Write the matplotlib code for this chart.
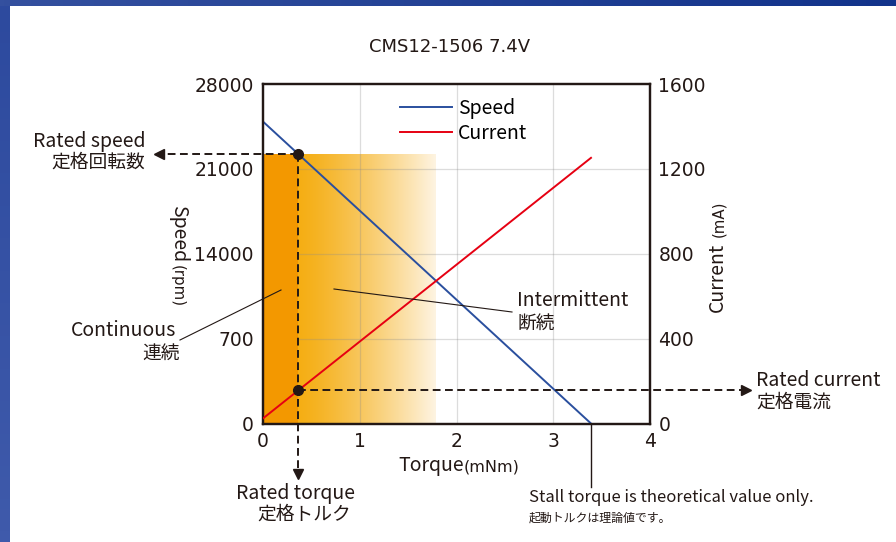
import numpy as np
import matplotlib
matplotlib.use("Agg")
import matplotlib.pyplot as plt
from matplotlib.colors import LinearSegmentedColormap

plt.rcParams['font.family'] = ['Noto Sans CJK JP', 'DejaVu Sans']

# ---- data ----
torque = [0.0, 3.39]          # mNm
speed = [24900, 0]            # rpm
current = [24, 1252]          # mA
rated_torque = 0.365
rated_speed = 22200
rated_current = 157
interm_limit = 1.786
x_ticks = [0, 1, 2, 3, 4]
speed_ticks = [0, 7000, 14000, 21000, 28000]
speed_tick_labels = ["0", "700", "14000", "21000", "28000"]
current_ticks = [0, 400, 800, 1200, 1600]
current_tick_labels = ["0", "400", "800", "1200", "1600"]

W, H = 896, 542
fig = plt.figure(figsize=(W / 100, H / 100), dpi=100)
fig.patch.set_facecolor('white')

def P(x, y):
    return x / W, 1 - y / H

# blue frame
axl = fig.add_axes([0, 0, 9 / W, 1])
axl.imshow(np.linspace(0, 1, 50).reshape(-1, 1), aspect='auto',
           cmap=LinearSegmentedColormap.from_list('l', ['#2d4a9e', '#3f5aab']), extent=[0, 1, 0, 1])
axl.axis('off')
axt = fig.add_axes([0, 1 - 6 / H, 1, 6 / H])
axt.imshow(np.linspace(0, 1, 200).reshape(1, -1), aspect='auto',
           cmap=LinearSegmentedColormap.from_list('t', ['#34509f', '#12338b']), extent=[0, 1, 0, 1])
axt.axis('off')

x0, x1, ytop, ybot = 263, 650, 84, 423.5
ax = fig.add_axes([x0 / W, 1 - ybot / H, (x1 - x0) / W, (ybot - ytop) / H])
ax.set_xlim(0, 4)
ax.set_ylim(0, 28000)
ax2 = ax.twinx()
ax2.set_ylim(0, 1600)

# grid
for xv in x_ticks[1:-1]:
    ax.axvline(xv, color='#8c8c8c', alpha=0.3, lw=0.9, zorder=1.5)
for yv in speed_ticks[1:-1]:
    ax.axhline(yv, color='#8c8c8c', alpha=0.3, lw=0.9, zorder=1.5)

# continuous region (dark orange)
ax.fill_between([0, rated_torque], 0, rated_speed, color='#f39800', lw=0, zorder=2)
# intermittent region gradient
t = np.linspace(0, 1, 256)
c0 = np.array([245, 174, 20]) / 255
c1 = np.array([254, 244, 226]) / 255
tt = t ** 1.3
cols = (1 - tt)[:, None] * c0 + tt[:, None] * c1
grad = cols.reshape(1, -1, 3)
ax.imshow(grad, aspect='auto', extent=[rated_torque, interm_limit, 0, rated_speed],
          zorder=1, interpolation='bilinear')
ax.set_xlim(0, 4)
ax.set_ylim(0, 28000)

# lines
ax.plot(torque, speed, color='#2a4f9e', lw=1.4, zorder=4, label='Speed')
ax2.plot(torque, current, color='#e60012', lw=1.4, zorder=4, label='Current')

# rated dashes and arrows
dk = dict(color='#231815', lw=1.4, ls=(0, (4, 2.3)), clip_on=False, zorder=5)
ax.plot([rated_torque, -1.06], [rated_speed, rated_speed], **dk)
ax.plot([-1.08], [rated_speed], marker='<', color='#231815', ms=7, clip_on=False, zorder=6)
ax.plot([rated_torque, rated_torque], [rated_speed, -4000], **dk)
ax.plot([rated_torque], [-4200], marker='v', color='#231815', ms=7, clip_on=False, zorder=6)
ax2.plot([rated_torque, 4.97], [rated_current, rated_current], **dk)
ax2.plot([4.99], [rated_current], marker='>', color='#231815', ms=7, clip_on=False, zorder=6)
ax.plot([rated_torque], [rated_speed], 'o', color='#231815', ms=7, zorder=7, clip_on=False)
ax2.plot([rated_torque], [rated_current], 'o', color='#231815', ms=7, zorder=7, clip_on=False)

# stall torque line
ax.plot([torque[1], torque[1]], [0, -5250], color='#231815', lw=1.0, clip_on=False, zorder=5)

# leader lines
fig.add_artist(plt.Line2D([281 / W, 180 / W], [1 - 290 / H, 1 - 340 / H],
                          color='#231815', lw=0.8, zorder=20))
fig.add_artist(plt.Line2D([334 / W, 512 / W], [1 - 289 / H, 1 - 312 / H],
                          color='#231815', lw=0.8, zorder=20))

# spines & ticks
for a in (ax, ax2):
    for s in a.spines.values():
        s.set_linewidth(1.6)
        s.set_color('#231815')
ax.set_xticks(x_ticks)
ax.set_xticklabels([str(v) for v in x_ticks])
ax.set_yticks(speed_ticks)
ax.set_yticklabels(speed_tick_labels)
ax2.set_yticks(current_ticks)
ax2.set_yticklabels(current_tick_labels)
ax.tick_params(axis='both', length=0, labelsize=13.5, colors='#231815')
ax.tick_params(axis='y', pad=6.5)
ax.tick_params(axis='x', pad=6)
ax2.tick_params(axis='y', length=0, labelsize=13.5, colors='#231815', pad=6)
for lab in ax.get_xticklabels() + ax.get_yticklabels() + ax2.get_yticklabels():
    lab.set_family('DejaVu Sans')
ax.set_zorder(2)
ax2.set_zorder(3)
ax2.patch.set_visible(False)

# legend
h1, l1 = ax.get_legend_handles_labels()
h2, l2 = ax2.get_legend_handles_labels()
ax2.legend(h1 + h2, l1 + l2, frameon=False, loc='upper left',
           bbox_to_anchor=(0.354, 0.96), fontsize=14, handlelength=2.7,
           handletextpad=0.3, labelspacing=0.22, borderpad=0, borderaxespad=0)

tc = '#231815'
EN = 14
JP = 13.5
# title
fig.text(*P(450, 47), 'CMS12-1506 7.4V', ha='center', va='center', fontsize=13,
         color=tc, family=['Liberation Sans Narrow', 'DejaVu Sans'])

# axis labels
fig.text(*P(173, 205), 'Speed', rotation=-90, rotation_mode='anchor', ha='left',
         va='baseline', fontsize=EN, color=tc)
fig.text(*P(173, 265), '(rpm)', rotation=-90, rotation_mode='anchor', ha='left',
         va='baseline', fontsize=10.8, color=tc, family=['DejaVu Sans'])
fig.text(*P(723, 312), 'Current', rotation=90, rotation_mode='anchor', ha='left',
         va='baseline', fontsize=EN, color=tc)
fig.text(*P(723, 237), '(mA)', rotation=90, rotation_mode='anchor', ha='left',
         va='baseline', fontsize=10.8, color=tc, family=['DejaVu Sans'])
fig.text(*P(464, 471), 'Torque', ha='right', va='baseline', fontsize=EN, color=tc)
fig.text(*P(464, 471), '(mNm)', ha='left', va='baseline', fontsize=11.5, color=tc,
         family=['DejaVu Sans'])

# annotations
fig.text(*P(145, 142), 'Rated speed', ha='right', va='center', fontsize=EN, color=tc)
fig.text(*P(145, 162), '定格回転数', ha='right', va='center', fontsize=JP, color=tc)
fig.text(*P(176, 331), 'Continuous', ha='right', va='center', fontsize=EN, color=tc)
fig.text(*P(180, 353), '連続', ha='right', va='center', fontsize=JP, color=tc)
fig.text(*P(517, 300), 'Intermittent', ha='left', va='center', fontsize=EN, color=tc)
fig.text(*P(517, 323), '断続', ha='left', va='center', fontsize=JP, color=tc)
fig.text(*P(756, 381), 'Rated current', ha='left', va='center', fontsize=EN, color=tc)
fig.text(*P(756, 402), '定格電流', ha='left', va='center', fontsize=JP, color=tc)
fig.text(*P(355, 493), 'Rated torque', ha='right', va='center', fontsize=EN, color=tc)
fig.text(*P(351, 514), '定格トルク', ha='right', va='center', fontsize=JP, color=tc)
fig.text(*P(529, 497), 'Stall torque is theoretical value only.', ha='left', va='center',
         fontsize=12, color=tc)
fig.text(*P(529, 518), '起動トルクは理論値です。', ha='left', va='center', fontsize=8.6, color=tc)

fig.savefig('out.png', dpi=100, facecolor='white')
